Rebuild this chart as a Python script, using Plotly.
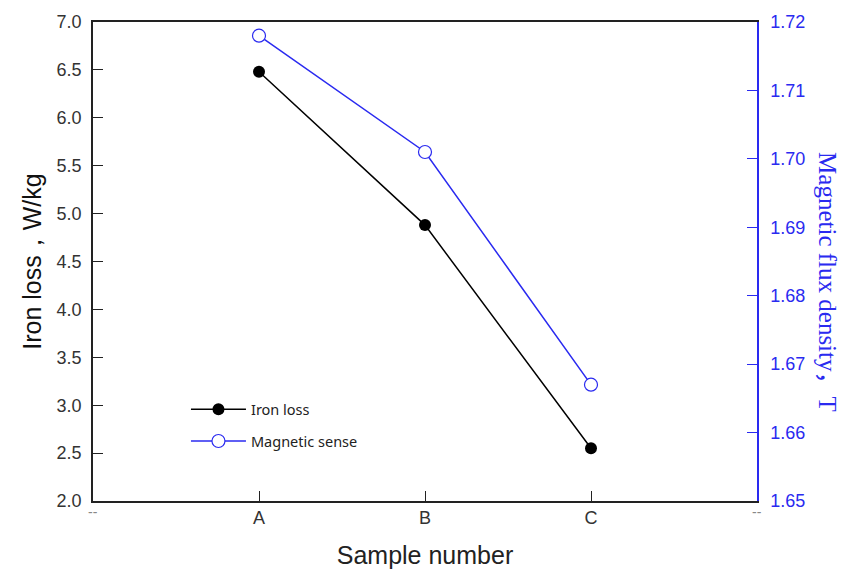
import plotly.graph_objects as go

categories = ["A", "B", "C"]
axis_categories = ["--", "A", "B", "C", "-- "]
iron_loss = [6.48, 4.88, 2.55]
magnetic_sense = [1.718, 1.701, 1.667]
left_ticks = [2.0, 2.5, 3.0, 3.5, 4.0, 4.5, 5.0, 5.5, 6.0, 6.5, 7.0]
right_ticks = [1.65, 1.66, 1.67, 1.68, 1.69, 1.70, 1.71, 1.72]

BLUE = "#2a2af0"
DARK = "#333333"

fig = go.Figure()
fig.add_trace(go.Scatter(
    x=categories, y=iron_loss, name="Iron loss", mode="lines+markers",
    legendgroup="g1",
    line=dict(color="black", width=1.5),
    marker=dict(symbol="circle", size=12, color="black"),
    yaxis="y"))
fig.add_trace(go.Scatter(
    x=categories, y=magnetic_sense, name="Magnetic sense", mode="lines+markers",
    legendgroup="g2",
    line=dict(color=BLUE, width=1.5),
    marker=dict(symbol="circle", size=13, color="white", line=dict(color=BLUE, width=1.2)),
    yaxis="y2"))

fig.update_layout(
    width=844, height=577,
    margin=dict(l=93, r=87, t=16, b=76),
    paper_bgcolor="white", plot_bgcolor="white",
    font=dict(family="Liberation Sans, Arial", color=DARK),
    showlegend=True,
    legend=dict(x=0.14, y=0.225, xanchor="left", yanchor="top",
                bgcolor="rgba(0,0,0,0)", itemwidth=55,
                font=dict(family="Noto Sans", size=14.5, color="#222222"),
                tracegroupgap=10),
    xaxis=dict(
        type="category", categoryorder="array", categoryarray=axis_categories,
        tickvals=["A", "B", "C"], ticktext=["A", "B", "C"],
        range=[0, 4], showline=True, linecolor="#222222", linewidth=1.5,
        mirror=True, ticks="inside", ticklen=10, tickcolor="#222222",
        showgrid=False, zeroline=False,
        tickfont=dict(size=18, color=DARK),
        title=dict(text="Sample number", font=dict(size=25, color="#222222"), standoff=19)),
    yaxis=dict(
        range=[2.0, 7.0], tickvals=left_ticks,
        ticktext=[f"{v:.1f}" for v in left_ticks],
        showline=True, linecolor="#222222", linewidth=1.5,
        ticks="inside", ticklen=10, tickcolor="#222222",
        showgrid=False, zeroline=False, ticklabelstandoff=6,
        tickfont=dict(size=18, color=DARK),
        title=dict(text="Iron loss，W/kg", font=dict(size=25, color="#111111"), standoff=8)),
    yaxis2=dict(
        range=[1.65, 1.72], tickvals=right_ticks,
        ticktext=[f"{v:.2f}" for v in right_ticks],
        overlaying="y", side="right",
        showline=True, linecolor=BLUE, linewidth=1.5,
        ticks="inside", ticklen=10, tickcolor=BLUE,
        showgrid=False, zeroline=False, ticklabelstandoff=8,
        tickfont=dict(size=18, color=BLUE)),
)

# "--" labels at the ends of the x axis
for c in ["--", "-- "]:
    fig.add_annotation(x=c, y=0, xref="x", yref="paper", yshift=-21,
                       text="--", showarrow=False,
                       font=dict(size=14, color="#888888"))

fig.add_annotation(x=1, y=0.458, xref="paper", yref="paper", xshift=86,
                   text="Magnetic flux density，T", textangle=90, showarrow=False,
                   font=dict(family="Liberation Serif, Noto Sans CJK SC", size=25, color=BLUE))

fig.write_html("out.html")
